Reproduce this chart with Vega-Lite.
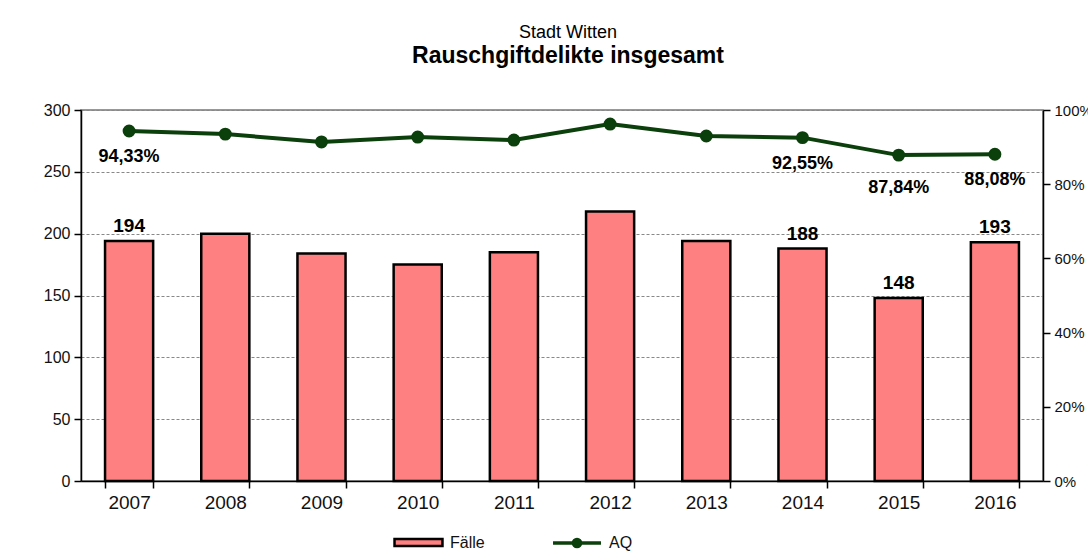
{
  "$schema": "https://vega.github.io/schema/vega-lite/v6.json",
  "width": 962,
  "height": 371,
  "autosize": {"type": "none"},
  "padding": {"left": 81, "top": 110, "right": 45, "bottom": 72},
  "background": "white",
  "config": {
    "font": "Liberation Sans",
    "view": {"stroke": "#777", "strokeWidth": 1.5},
    "locale": {"number": {"decimal": ",", "thousands": ".", "grouping": [3], "currency": ["", " €"]}}
  },
  "title": {
    "text": "Stadt Witten",
    "subtitle": "Rauschgiftdelikte insgesamt",
    "anchor": "middle",
    "dx": 6,
    "offset": 34,
    "fontSize": 18,
    "fontWeight": "normal",
    "color": "#000",
    "subtitleFontSize": 23,
    "subtitleFontWeight": "bold",
    "subtitleColor": "#000",
    "subtitlePadding": 3,
    "font": "Liberation Sans",
    "subtitleFont": "Liberation Sans"
  },
  "data": {
    "values": [
      {"year": "2007", "faelle": 194, "aq": 0.9433},
      {"year": "2008", "faelle": 200, "aq": 0.935},
      {"year": "2009", "faelle": 184, "aq": 0.914},
      {"year": "2010", "faelle": 175, "aq": 0.927},
      {"year": "2011", "faelle": 185, "aq": 0.919},
      {"year": "2012", "faelle": 218, "aq": 0.962},
      {"year": "2013", "faelle": 194, "aq": 0.930},
      {"year": "2014", "faelle": 188, "aq": 0.9255},
      {"year": "2015", "faelle": 148, "aq": 0.8784},
      {"year": "2016", "faelle": 193, "aq": 0.8808}
    ]
  },
  "encoding": {
    "x": {
      "field": "year",
      "type": "ordinal",
      "scale": {"paddingInner": 0.5, "paddingOuter": 0.25},
      "axis": {
        "title": null,
        "labelAngle": 0,
        "labelFontSize": 19,
        "labelColor": "#111",
        "labelPadding": 5,
        "domainColor": "#000",
        "domainWidth": 1.5,
        "tickColor": "#000",
        "tickBand": "extent",
        "tickSize": 7,
        "tickWidth": 1.5
      }
    }
  },
  "layer": [
    {
      "layer": [
        {
          "mark": {"type": "bar", "stroke": "#000", "strokeWidth": 2.5},
          "encoding": {
            "y": {
              "field": "faelle",
              "type": "quantitative",
              "scale": {"domain": [0, 300]},
              "axis": {
                "title": null,
                "values": [0, 50, 100, 150, 200, 250, 300],
                "labelFontSize": 16,
                "labelColor": "#111",
                "labelPadding": 4,
                "domainColor": "#000",
                "domainWidth": 1.5,
                "tickColor": "#000",
                "tickSize": 7,
                "tickWidth": 1.5,
                "grid": true,
                "gridColor": "#888",
                "gridDash": [3, 2],
                "gridWidth": 1
              }
            },
            "fill": {
              "datum": "Fälle",
              "scale": {"domain": ["Fälle"], "range": ["#FF8080"]},
              "legend": {
                "title": null,
                "orient": "none",
                "legendX": 312,
                "legendY": 407,
                "padding": 0,
                "symbolType": "M-1,-0.15H1V0.15H-1Z",
                "symbolSize": 2300,
                "symbolStrokeColor": "#000",
                "symbolStrokeWidth": 2.5,
                "symbolOpacity": 1,
                "labelFontSize": 16,
                "labelColor": "#111",
                "labelOffset": 6
              }
            }
          }
        },
        {
          "transform": [{"filter": "indexof(['2007','2014','2015','2016'], datum.year) >= 0"}],
          "mark": {"type": "text", "fontSize": 19, "fontWeight": "bold", "baseline": "middle", "dy": -15, "color": "#000"},
          "encoding": {
            "y": {"field": "faelle", "type": "quantitative"},
            "text": {"field": "faelle", "type": "quantitative"}
          }
        }
      ]
    },
    {
      "layer": [
        {
          "mark": {"type": "line", "strokeWidth": 4, "point": {"filled": true, "size": 120, "color": "#0B3F0B", "opacity": 1}},
          "encoding": {
            "y": {
              "field": "aq",
              "type": "quantitative",
              "scale": {"domain": [0, 1]},
              "axis": {
                "orient": "right",
                "title": null,
                "values": [0, 0.2, 0.4, 0.6, 0.8, 1],
                "format": ".0%",
                "labelFontSize": 15,
                "labelColor": "#111",
                "labelPadding": 4,
                "domainColor": "#000",
                "domainWidth": 1.5,
                "tickColor": "#000",
                "tickSize": 7,
                "tickWidth": 1.5,
                "grid": false
              }
            },
            "stroke": {
              "datum": "AQ",
              "scale": {"domain": ["AQ"], "range": ["#0B3F0B"]},
              "legend": {
                "title": null,
                "orient": "none",
                "legendX": 470,
                "legendY": 407,
                "padding": 0,
                "symbolType": "M-1,0H1M-0.15,0A0.15,0.15 0 1,0 0.15,0A0.15,0.15 0 1,0 -0.15,0Z",
                "symbolSize": 2300,
                "symbolStrokeWidth": 3.5,
                "symbolFillColor": "#0B3F0B",
                "symbolOpacity": 1,
                "labelFontSize": 16,
                "labelColor": "#111",
                "labelOffset": 6
              }
            }
          }
        },
        {
          "transform": [{"filter": "indexof(['2007','2014','2016'], datum.year) >= 0"}],
          "mark": {"type": "text", "fontSize": 18, "fontWeight": "bold", "baseline": "middle", "dy": 26, "color": "#000"},
          "encoding": {
            "y": {"field": "aq", "type": "quantitative"},
            "text": {"field": "aq", "type": "quantitative", "format": ".2%"}
          }
        },
        {
          "transform": [{"filter": "datum.year === '2015'"}],
          "mark": {"type": "text", "fontSize": 18, "fontWeight": "bold", "baseline": "middle", "dy": 33, "color": "#000"},
          "encoding": {
            "y": {"field": "aq", "type": "quantitative"},
            "text": {"field": "aq", "type": "quantitative", "format": ".2%"}
          }
        }
      ]
    }
  ],
  "resolve": {"scale": {"y": "independent"}}
}
